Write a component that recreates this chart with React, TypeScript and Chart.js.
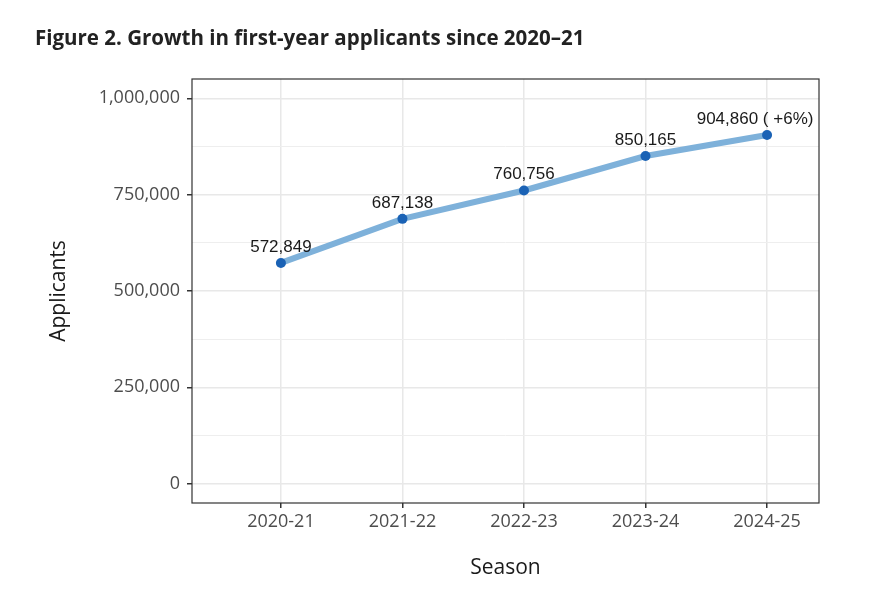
import React, { useEffect, useRef } from "react";
import { Chart, registerables } from "chart.js";

Chart.register(...registerables);

const seasons = ["2020-21", "2021-22", "2022-23", "2023-24", "2024-25"];
const applicants = [572849, 687138, 760756, 850165, 904860];
const labelSuffixes = ["", "", "", "", " ( +6%)"];
const yMajorTicks = [0, 250000, 500000, 750000, 1000000];
const yMinorTicks = [125000, 375000, 625000, 875000];

const titleText = "Figure 2. Growth in first-year applicants since 2020\u201321";

const panelBorder = {
  id: "panelBorder",
  afterDraw(chart: any) {
    const { ctx, chartArea } = chart;
    ctx.save();
    ctx.strokeStyle = "#333333";
    ctx.lineWidth = 1.2;
    ctx.strokeRect(chartArea.left, chartArea.top, chartArea.right - chartArea.left, chartArea.bottom - chartArea.top);
    ctx.restore();
  },
};

const pointLabels = {
  id: "pointLabels",
  afterDatasetsDraw(chart: any) {
    const { ctx } = chart;
    const meta = chart.getDatasetMeta(0);
    ctx.save();
    ctx.font = '17px "Liberation Sans", Arial, sans-serif';
    ctx.fillStyle = "#1a1a1a";
    ctx.textAlign = "center";
    ctx.textBaseline = "alphabetic";
    meta.data.forEach((pt: any, i: number) => {
      const text = applicants[i].toLocaleString("en-US") + labelSuffixes[i];
      const shift = i === applicants.length - 1 ? -12 : 0;
      ctx.fillText(text, pt.x + shift, pt.y - 11);
    });
    ctx.restore();
  },
};

export default function App() {
  const ref = useRef<HTMLCanvasElement | null>(null);

  useEffect(() => {
    document.body.style.margin = "0";
    if (!ref.current) return;
    const majorSet = new Set(yMajorTicks);
    const chart = new Chart(ref.current, {
      type: "line",
      data: {
        datasets: [
          {
            data: applicants.map((v, i) => ({ x: i, y: v })),
            borderColor: "#7eb1da",
            borderWidth: 6,
            pointRadius: 5,
            pointHoverRadius: 5,
            pointBackgroundColor: "#1a62b5",
            pointBorderWidth: 0,
            tension: 0,
          },
        ],
      },
      options: {
        animation: false,
        responsive: true,
        maintainAspectRatio: false,
        layout: { padding: { left: 35, right: 64, top: 0, bottom: 0 } },
        plugins: {
          legend: { display: false },
          tooltip: { enabled: false },
          title: {
            display: true,
            text: titleText,
            align: "start",
            color: "#222222",
            font: { family: '"Open Sans", sans-serif', size: 20.5, weight: "bold" },
            padding: { top: 27, bottom: 27.4 },
          },
        },
        scales: {
          x: {
            type: "linear",
            min: -0.7316,
            max: 4.4275,
            afterBuildTicks: (scale: any) => {
              scale.ticks = seasons.map((_, i) => ({ value: i }));
            },
            afterFit: (scale: any) => {
              scale.height = 100;
            },
            ticks: {
              callback: (v: any) => seasons[v] ?? "",
              color: "#4d4d4d",
              font: { family: '"Open Sans", sans-serif', size: 18 },
              padding: 3,
              maxRotation: 0,
              autoSkip: false,
            },
            grid: {
              color: "#e8e8e8",
              lineWidth: 1.5,
              tickColor: "#333333",
              tickLength: 5,
              tickWidth: 1.5,
            },
            border: { display: false },
            title: {
              display: true,
              text: "Season",
              color: "#1a1a1a",
              font: { family: '"Open Sans", sans-serif', size: 21 },
              padding: { top: 0, bottom: 22 },
            },
          },
          y: {
            type: "linear",
            min: -50000,
            max: 1050000,
            afterBuildTicks: (scale: any) => {
              scale.ticks = [...yMajorTicks, ...yMinorTicks]
                .sort((a, b) => a - b)
                .map((v) => ({ value: v }));
            },
            afterFit: (scale: any) => {
              scale.width = 157;
            },
            ticks: {
              callback: (v: any) => (majorSet.has(v) ? Number(v).toLocaleString("en-US") : ""),
              color: "#4d4d4d",
              font: { family: '"Open Sans", sans-serif', size: 18 },
              padding: 7,
              autoSkip: false,
            },
            grid: {
              color: (c: any) => (majorSet.has(c.tick?.value) ? "#e8e8e8" : "#eeeeee"),
              lineWidth: (c: any) => (majorSet.has(c.tick?.value) ? 1.5 : 1),
              tickColor: (c: any) => (majorSet.has(c.tick?.value) ? "#333333" : "rgba(0,0,0,0)"),
              tickLength: 5,
              tickWidth: 1.5,
            },
            border: { display: false },
            title: {
              display: true,
              text: "Applicants",
              color: "#1a1a1a",
              font: { family: '"Open Sans", sans-serif', size: 21 },
              padding: { top: 11, bottom: 0 },
            },
          },
        },
      } as any,
      plugins: [panelBorder, pointLabels],
    });
    return () => chart.destroy();
  }, []);

  return (
    <div style={{ width: 883, height: 603, position: "relative", background: "#ffffff" }}>
      <canvas ref={ref} />
    </div>
  );
}
